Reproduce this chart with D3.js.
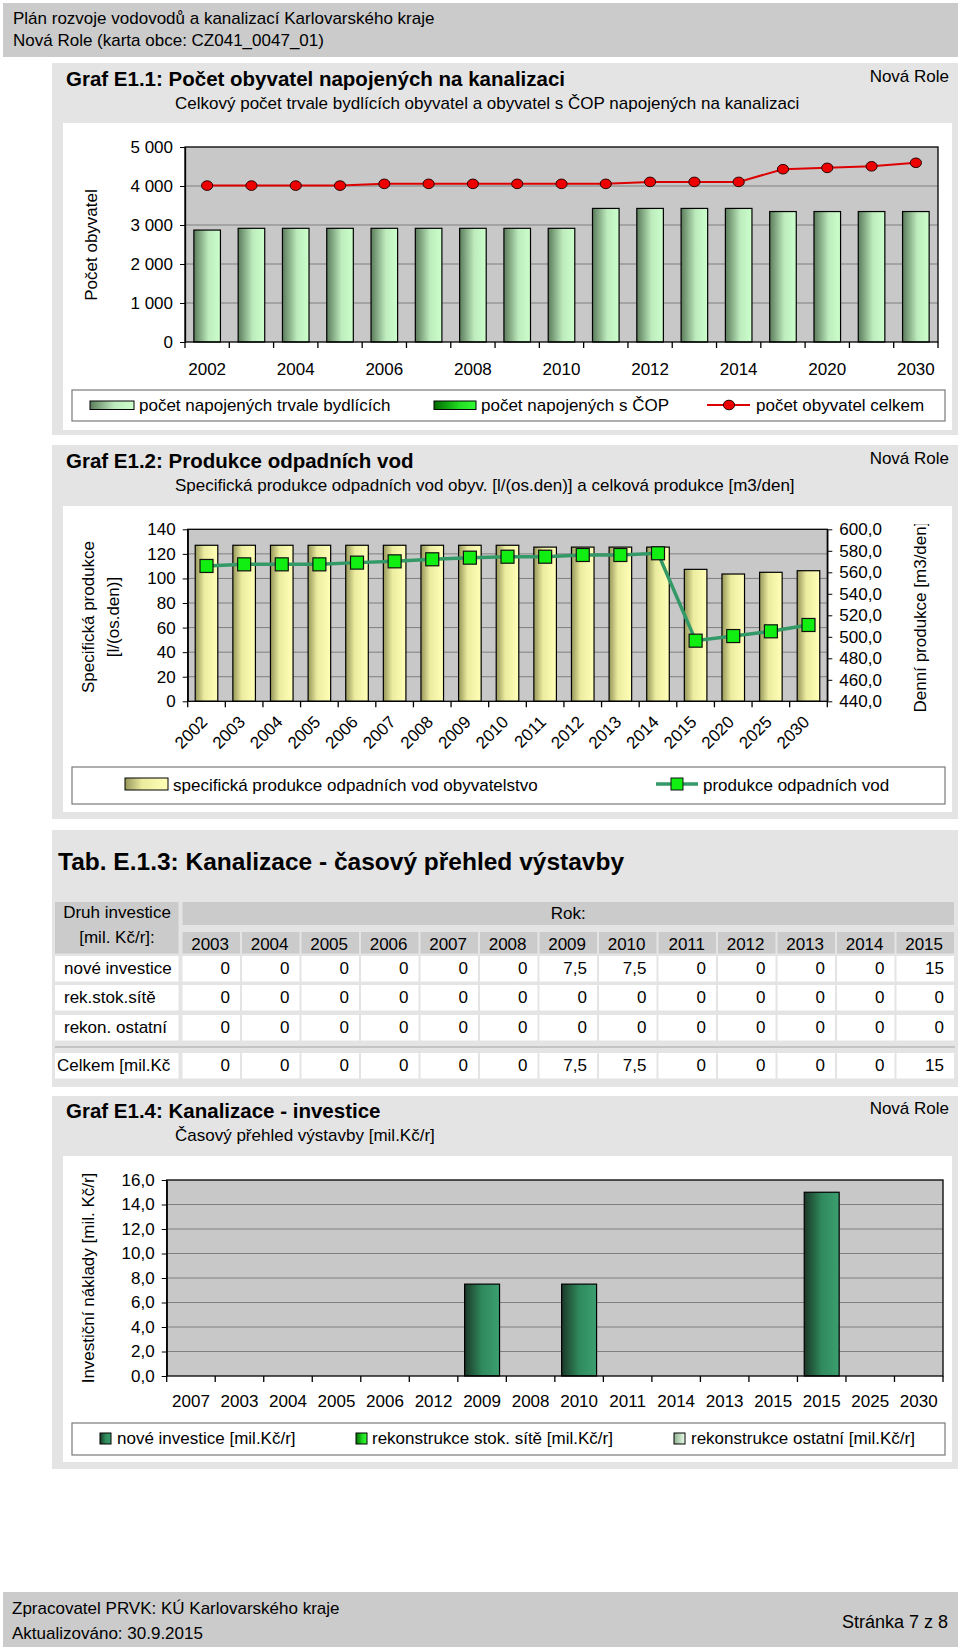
<!DOCTYPE html>
<html>
<head>
<meta charset="utf-8">
<script src="https://cdnjs.cloudflare.com/ajax/libs/d3/7.8.5/d3.min.js"></script>
<style>
body { margin: 0; background: #fff; }
svg { display: block; font-family: "Liberation Sans", Arial, sans-serif; }
</style>
</head>
<body>
<div id="page"></div>
<script>
// ---- data ----
const years1 = ['2002','2003','2004','2005','2006','2007','2008','2009','2010','2011','2012','2013','2014','2015','2020','2025','2030'];
const napojeniTrvale = [2870,2915,2915,2915,2915,2915,2915,2915,2915,3425,3425,3425,3425,3345,3345,3345,3345];
const napojeniCOP = [0,0,0,0,0,0,0,0,0,0,0,0,0,0,0,0,0];
const obyvatelCelkem = [4010,4010,4010,4010,4055,4055,4055,4055,4055,4055,4105,4105,4105,4430,4465,4505,4595];
const ticks1 = [0,1000,2000,3000,4000,5000];

const years2 = years1;
const specProdukce = [127,127,127,127,127,127,127,127,127,125.5,125.5,125.5,125.5,107.4,103.6,105,106.3];
const produkceVod = [565.9,567.4,567.4,567.4,569,570.2,572.1,573.6,574.5,574.5,576.1,576.1,577.7,496.4,500.7,505.1,511];
const ticks2L = [0,20,40,60,80,100,120,140];
const ticks2R = [440,460,480,500,520,540,560,580,600];

const tabYears = ['2003','2004','2005','2006','2007','2008','2009','2010','2011','2012','2013','2014','2015'];
const tabNove = [0,0,0,0,0,0,7.5,7.5,0,0,0,0,15];
const tabRekStok = [0,0,0,0,0,0,0,0,0,0,0,0,0];
const tabRekOst = [0,0,0,0,0,0,0,0,0,0,0,0,0];
const tabCelkem = [0,0,0,0,0,0,7.5,7.5,0,0,0,0,15];

const invYears = ['2007','2003','2004','2005','2006','2012','2009','2008','2010','2011','2014','2013','2015','2015','2025','2030'];
const invNove = [0,0,0,0,0,0,7.5,0,7.5,0,0,0,0,15,0,0];
const invRekStok = [0,0,0,0,0,0,0,0,0,0,0,0,0,0,0,0];
const invRekOst = [0,0,0,0,0,0,0,0,0,0,0,0,0,0,0,0];
const ticks4 = [0,2,4,6,8,10,12,14,16];

// ---- setup ----
const PANEL = '#e4e4e4', HEAD = '#cbcbcb', PLOT = '#c8c8c8', GRID = '#7f7f7f';
const FS = 17;

const loc = d3.formatLocale({decimal: ',', thousands: ' ', grouping: [3], currency: ['', '']});
const fmtK = loc.format(',');
const fmt1 = loc.format('.1f');
const fmtTab = v => String(v).replace('.', ',');

const svg = d3.select('#page').append('svg').attr('width', 960).attr('height', 1649);
const defs = svg.append('defs');

function hGrad(id, stops) {
	let g = defs.append('linearGradient').attr('id', id)
	.attr('x1', 0).attr('x2', 1).attr('y1', 0).attr('y2', 0);
	stops.forEach(s => g.append('stop').attr('offset', s[0]).attr('stop-color', s[1]));
}
hGrad('gMint', [[0,'#5b7b5b'],[0.55,'#bdebbd'],[1,'#ccffcc']]);
hGrad('gGreen', [[0,'#006a00'],[0.6,'#22dd22'],[1,'#33ff33']]);
hGrad('gYellow', [[0,'#96965a'],[0.4,'#ececa0'],[1,'#ffffb8']]);
hGrad('gDark', [[0,'#1b3828'],[0.5,'#2f8a5c'],[1,'#3c9f70']]);
hGrad('gLight', [[0,'#8fae8f'],[1,'#e8ffe8']]);

function txt(x, y, s, size) {
	return svg.append('text').attr('x', x).attr('y', y).attr('font-size', size || FS).attr('fill', '#000').text(s);
}

function styleAxis(g) {
	g.attr('font-size', FS).attr('font-family', null);
	g.selectAll('text').attr('fill', '#000');
	g.selectAll('line').attr('stroke', '#000');
	g.select('.domain').attr('stroke', '#000').attr('stroke-width', 1.3);
}

function panel(p) {
	svg.append('rect').attr('x', 52).attr('y', p.y).attr('width', 906).attr('height', p.h).attr('fill', PANEL);
	svg.append('rect').attr('x', 63).attr('y', p.wy).attr('width', 889).attr('height', p.wh).attr('fill', '#fff');
	txt(66, p.ty, p.title, 20.5).attr('font-weight', 'bold');
	txt(949, p.ty - 4, 'Nová Role').attr('text-anchor', 'end');
	txt(175, p.ty + 23, p.subtitle);
}

function legendBox(y, h) {
	svg.append('rect').attr('x', 72).attr('y', y).attr('width', 873).attr('height', h)
	.attr('fill', '#fff').attr('stroke', '#7a7a7a').attr('stroke-width', 1.2);
}

function plotFrame(x, y, gridTicks) {
	let [x0, x1] = x.range(), [yb, yt] = y.range();
	svg.append('rect').attr('x', x0).attr('y', yt).attr('width', x1 - x0).attr('height', yb - yt).attr('fill', PLOT);
	svg.append('g').selectAll('line').data(gridTicks).join('line')
	.attr('x1', x0).attr('x2', x1).attr('y1', d => y(d)).attr('y2', d => y(d))
	.attr('stroke', GRID).attr('stroke-width', 1);
}

function plotBorder(x, y) {
	let [x0, x1] = x.range(), [yb, yt] = y.range();
	svg.append('rect').attr('x', x0).attr('y', yt).attr('width', x1 - x0).attr('height', yb - yt)
	.attr('fill', 'none').attr('stroke', '#000').attr('stroke-width', 1.3);
}

function bandTicks(x, yBase, len) {
	let r0 = x.range()[0], n = x.domain().length;
	svg.append('g').selectAll('line').data(d3.range(n + 1)).join('line')
	.attr('x1', i => r0 + i * x.step()).attr('x2', i => r0 + i * x.step())
	.attr('y1', yBase).attr('y2', yBase + len).attr('stroke', '#000').attr('stroke-width', 1.3);
}

function rotLabel(x, y, s, clipId) {
	let g = svg.append('g');
	if (clipId) g.attr('clip-path', `url(#${clipId})`);
	return g.append('text').attr('transform', `translate(${x},${y}) rotate(-90)`)
	.attr('text-anchor', 'middle').attr('dy', '0.35em').attr('font-size', FS).attr('fill', '#000').text(s);
}

function clipRect(id, x, y, w, h) {
	defs.append('clipPath').attr('id', id).attr('clipPathUnits', 'userSpaceOnUse')
	.append('rect').attr('x', x).attr('y', y).attr('width', w).attr('height', h);
}

// ---- page header / footer ----
svg.append('rect').attr('x', 3).attr('y', 3).attr('width', 955).attr('height', 54).attr('fill', HEAD);
txt(13, 24, 'Plán rozvoje vodovodů a kanalizací Karlovarského kraje');
txt(13, 46, 'Nová Role (karta obce: CZ041_0047_01)');

svg.append('rect').attr('x', 3).attr('y', 1592).attr('width', 955).attr('height', 55).attr('fill', HEAD);
txt(12, 1614, 'Zpracovatel PRVK: KÚ Karlovarského kraje');
txt(12, 1639, 'Aktualizováno: 30.9.2015');
txt(948, 1628, 'Stránka 7 z 8', 18).attr('text-anchor', 'end');

// ---- Graf E1.1 ----
panel({y: 63, h: 372, wy: 123, wh: 307, ty: 86,
	title: 'Graf E1.1: Počet obyvatel napojených na kanalizaci',
	subtitle: 'Celkový počet trvale bydlících obyvatel a obyvatel s ČOP napojených na kanalizaci'});

let x1 = d3.scaleBand().domain(d3.range(years1.length)).range([185, 938]).paddingInner(0.4).paddingOuter(0.2);
let y1 = d3.scaleLinear().domain([0, 5000]).range([342, 147]);

plotFrame(x1, y1, ticks1.slice(1, -1));

svg.append('g').selectAll('rect').data(napojeniTrvale).join('rect')
.attr('x', (d, i) => x1(i)).attr('width', x1.bandwidth())
.attr('y', d => y1(d)).attr('height', d => y1(0) - y1(d))
.attr('fill', 'url(#gMint)').attr('stroke', '#000').attr('stroke-width', 1.2);

svg.append('g').selectAll('rect').data(napojeniCOP.map((d, i) => [d, i]).filter(d => d[0] > 0)).join('rect')
.attr('x', d => x1(d[1])).attr('width', x1.bandwidth())
.attr('y', d => y1(d[0])).attr('height', d => y1(0) - y1(d[0]))
.attr('fill', 'url(#gGreen)').attr('stroke', '#000');

plotBorder(x1, y1);

svg.append('path').datum(obyvatelCelkem)
.attr('d', d3.line().x((d, i) => x1(i) + x1.bandwidth() / 2).y(d => y1(d)))
.attr('fill', 'none').attr('stroke', '#dd0000').attr('stroke-width', 2);
svg.append('g').selectAll('ellipse').data(obyvatelCelkem).join('ellipse')
.attr('cx', (d, i) => x1(i) + x1.bandwidth() / 2).attr('cy', d => y1(d))
.attr('rx', 5.6).attr('ry', 4.8).attr('fill', '#ee0000').attr('stroke', '#2a0000').attr('stroke-width', 1);

svg.append('g').attr('transform', 'translate(185,0)')
.call(d3.axisLeft(y1).tickValues(ticks1).tickFormat(fmtK).tickSize(5).tickPadding(7).tickSizeOuter(0))
.call(styleAxis);
bandTicks(x1, 342, 6);
svg.append('g').selectAll('text').data(years1).join('text')
.attr('x', (d, i) => x1(i) + x1.bandwidth() / 2).attr('y', 375)
.attr('text-anchor', 'middle').attr('font-size', FS)
.text((d, i) => i % 2 === 0 ? d : '');
rotLabel(91, 245, 'Počet obyvatel');

legendBox(390, 31);
svg.append('rect').attr('x', 90).attr('y', 401).attr('width', 44).attr('height', 8.5)
.attr('fill', 'url(#gMint)').attr('stroke', '#000');
txt(139, 411, 'počet napojených trvale bydlících');
svg.append('rect').attr('x', 434).attr('y', 401).attr('width', 42).attr('height', 8.5)
.attr('fill', 'url(#gGreen)').attr('stroke', '#000');
txt(481, 411, 'počet napojených s ČOP');
svg.append('line').attr('x1', 707).attr('x2', 750).attr('y1', 405).attr('y2', 405)
.attr('stroke', '#dd0000').attr('stroke-width', 2);
svg.append('ellipse').attr('cx', 729).attr('cy', 405).attr('rx', 5.6).attr('ry', 4.8)
.attr('fill', '#ee0000').attr('stroke', '#2a0000');
txt(756, 411, 'počet obyvatel celkem');

// ---- Graf E1.2 ----
panel({y: 445, h: 374, wy: 506, wh: 306, ty: 468,
	title: 'Graf E1.2: Produkce odpadních vod',
	subtitle: 'Specifická produkce odpadních vod obyv. [l/(os.den)] a celková produkce [m3/den]'});

let x2 = d3.scaleBand().domain(d3.range(years2.length)).range([187.7, 827.3]).paddingInner(0.4).paddingOuter(0.2);
let y2 = d3.scaleLinear().domain([0, 140]).range([701.3, 529.3]);
let y2r = d3.scaleLinear().domain([440, 600]).range([701.3, 529.3]);

plotFrame(x2, y2, ticks2L.slice(1, -1));

svg.append('g').selectAll('rect').data(specProdukce).join('rect')
.attr('x', (d, i) => x2(i)).attr('width', x2.bandwidth())
.attr('y', d => y2(d)).attr('height', d => y2(0) - y2(d))
.attr('fill', 'url(#gYellow)').attr('stroke', '#000').attr('stroke-width', 1.2);

plotBorder(x2, y2);

svg.append('path').datum(produkceVod)
.attr('d', d3.line().x((d, i) => x2(i) + x2.bandwidth() / 2).y(d => y2r(d)))
.attr('fill', 'none').attr('stroke', '#339966').attr('stroke-width', 3.5);
svg.append('g').selectAll('rect').data(produkceVod).join('rect')
.attr('x', (d, i) => x2(i) + x2.bandwidth() / 2 - 6.5).attr('y', d => y2r(d) - 6.5)
.attr('width', 13).attr('height', 13)
.attr('fill', '#11ee11').attr('stroke', '#111').attr('stroke-width', 1.2);

svg.append('g').attr('transform', 'translate(187.7,0)')
.call(d3.axisLeft(y2).tickValues(ticks2L).tickSize(5).tickPadding(7).tickSizeOuter(0))
.call(styleAxis);
svg.append('g').attr('transform', 'translate(827.3,0)')
.call(d3.axisRight(y2r).tickValues(ticks2R).tickFormat(fmt1).tickSize(5).tickPadding(7).tickSizeOuter(0))
.call(styleAxis);
bandTicks(x2, 701.3, 6);
svg.append('g').selectAll('text').data(years2).join('text')
.attr('transform', (d, i) => `translate(${x2(i) + x2.bandwidth() / 2 + 2},723) rotate(-45)`)
.attr('text-anchor', 'end').attr('font-size', FS).text(d => d);

rotLabel(88, 617, 'Specifická produkce');
rotLabel(113, 617, '[l/(os.den)]');
clipRect('clipR2', 880, 524, 80, 220);
rotLabel(920, 617, 'Denní produkce [m3/den]', 'clipR2');

legendBox(767, 37);
svg.append('rect').attr('x', 125).attr('y', 778).attr('width', 43).attr('height', 12)
.attr('fill', 'url(#gYellow)').attr('stroke', '#000');
txt(173, 791, 'specifická produkce odpadních vod obyvatelstvo');
svg.append('line').attr('x1', 656).attr('x2', 698).attr('y1', 784).attr('y2', 784)
.attr('stroke', '#339966').attr('stroke-width', 3.5);
svg.append('rect').attr('x', 671).attr('y', 778).attr('width', 12).attr('height', 12)
.attr('fill', '#11ee11').attr('stroke', '#111');
txt(703, 791, 'produkce odpadních vod');

// ---- Tab. E.1.3 ----
svg.append('rect').attr('x', 52).attr('y', 830).attr('width', 906).attr('height', 257).attr('fill', PANEL);
txt(58, 870, 'Tab. E.1.3: Kanalizace - časový přehled výstavby', 24.5).attr('font-weight', 'bold');

const colX0 = 182.5, colStep = 59.5, colW = 57.5;
svg.append('rect').attr('x', 55).attr('y', 902).attr('width', 123.5).attr('height', 51.5).attr('fill', HEAD);
txt(117, 918, 'Druh investice').attr('text-anchor', 'middle');
txt(117, 943, '[mil. Kč/r]:').attr('text-anchor', 'middle');
svg.append('rect').attr('x', colX0).attr('y', 902).attr('width', colStep * 12 + colW).attr('height', 23).attr('fill', HEAD);
txt(colX0 + (colStep * 12 + colW) / 2, 919, 'Rok:').attr('text-anchor', 'middle');

let yearCells = svg.append('g').selectAll('g').data(tabYears).join('g')
.attr('transform', (d, i) => `translate(${colX0 + i * colStep},932)`);
yearCells.append('rect').attr('width', colW).attr('height', 21.5).attr('fill', HEAD);
yearCells.append('text').attr('x', colW - 11).attr('y', 17.5).attr('text-anchor', 'end')
.attr('font-size', FS).text(d => d);

const tabRows = [
	{label: 'nové investice', vals: tabNove, y: 956, lx: 64},
	{label: 'rek.stok.sítě', vals: tabRekStok, y: 985, lx: 64},
	{label: 'rekon. ostatní', vals: tabRekOst, y: 1015, lx: 64},
	{label: 'Celkem [mil.Kč', vals: tabCelkem, y: 1053, lx: 57}
];
svg.append('line').attr('x1', 55).attr('x2', 955).attr('y1', 1047).attr('y2', 1047)
.attr('stroke', '#c4c4c4').attr('stroke-width', 2);
tabRows.forEach(r => {
	svg.append('rect').attr('x', 55).attr('y', r.y).attr('width', 123.5).attr('height', 25.5).attr('fill', '#fff');
	txt(r.lx, r.y + 18, r.label);
	let cells = svg.append('g').selectAll('g').data(r.vals).join('g')
	.attr('transform', (d, i) => `translate(${colX0 + i * colStep},${r.y})`);
	cells.append('rect').attr('width', colW).attr('height', 25.5).attr('fill', '#fff');
	cells.append('text').attr('x', colW - 10).attr('y', 18).attr('text-anchor', 'end')
	.attr('font-size', FS).text(d => fmtTab(d));
});

// ---- Graf E1.4 ----
panel({y: 1096, h: 373, wy: 1156, wh: 306, ty: 1118,
	title: 'Graf E1.4: Kanalizace - investice',
	subtitle: 'Časový přehled výstavby [mil.Kč/r]'});

let x4 = d3.scaleBand().domain(d3.range(invYears.length)).range([166.7, 943]).paddingInner(0.28).paddingOuter(0.14);
let y4 = d3.scaleLinear().domain([0, 16]).range([1376, 1180]);

plotFrame(x4, y4, ticks4.slice(1, -1));

const invKeys = ['nove', 'rekStok', 'rekOst'];
const invFill = {nove: 'url(#gDark)', rekStok: 'url(#gGreen)', rekOst: 'url(#gLight)'};
const invTable = invYears.map((yr, i) => ({i: i, nove: invNove[i], rekStok: invRekStok[i], rekOst: invRekOst[i]}));
const stacked = d3.stack().keys(invKeys)(invTable);
svg.append('g').selectAll('g').data(stacked).join('g')
.attr('fill', s => invFill[s.key])
.selectAll('rect').data(s => s.filter(d => d[1] - d[0] > 0)).join('rect')
.attr('x', d => x4(d.data.i)).attr('width', x4.bandwidth())
.attr('y', d => y4(d[1])).attr('height', d => y4(d[0]) - y4(d[1]))
.attr('stroke', '#000').attr('stroke-width', 1.2);

plotBorder(x4, y4);

svg.append('g').attr('transform', 'translate(166.7,0)')
.call(d3.axisLeft(y4).tickValues(ticks4).tickFormat(fmt1).tickSize(5).tickPadding(7).tickSizeOuter(0))
.call(styleAxis);
bandTicks(x4, 1376, 6);
svg.append('g').selectAll('text').data(invYears).join('text')
.attr('x', (d, i) => x4(i) + x4.bandwidth() / 2).attr('y', 1407)
.attr('text-anchor', 'middle').attr('font-size', FS).text(d => d);

clipRect('clipL4', 60, 1172, 60, 240);
rotLabel(88, 1278, 'Investiční náklady [mil. Kč/r]', 'clipL4');

legendBox(1423, 32);
svg.append('rect').attr('x', 100).attr('y', 1433).attr('width', 11).attr('height', 11)
.attr('fill', 'url(#gDark)').attr('stroke', '#000');
txt(117, 1444, 'nové investice [mil.Kč/r]');
svg.append('rect').attr('x', 356).attr('y', 1433).attr('width', 11).attr('height', 11)
.attr('fill', 'url(#gGreen)').attr('stroke', '#000');
txt(372, 1444, 'rekonstrukce stok. sítě [mil.Kč/r]');
svg.append('rect').attr('x', 674).attr('y', 1433).attr('width', 11).attr('height', 11)
.attr('fill', 'url(#gLight)').attr('stroke', '#000');
txt(691, 1444, 'rekonstrukce ostatní [mil.Kč/r]');
</script>
</body>
</html>
